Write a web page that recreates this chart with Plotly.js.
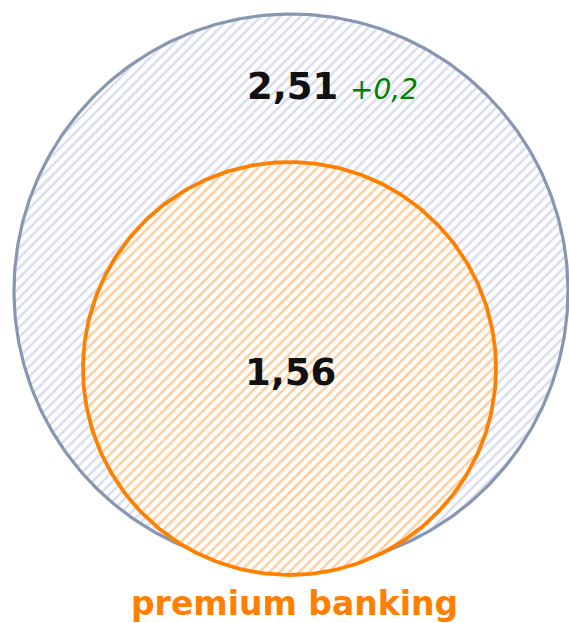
<!DOCTYPE html>
<html>
<head>
<meta charset="utf-8">
<script src="https://cdn.plot.ly/plotly-3.0.1.min.js"></script>
<style>
html,body{margin:0;padding:0;background:#fff;}
#chart{width:569px;height:623px;}
</style>
</head>
<body>
<div id="chart"></div>
<script>
// Data
var labels = ["total", "premium banking"];
var values = [2.51, 1.56];
var deltas = ["+0,2", ""];
var footerLabel = "premium banking";

// Layout geometry (pixel-space axes)
var W = 569, H = 623;
var circles = [
  {cx: 291, cy: 291, r: 277, line: "#8797b2", lw: 3.2, fg: "#d9dcee", label: [245, 86]},
  {cx: 289.5, cy: 368.5, r: 206.5, line: "#ff8000", lw: 3.8, fg: "#ffcc9c", label: [290, 372]}
];

function fmt(v){ return v.toFixed(2).replace(".", ","); }

var traces = circles.map(function(c){
  var xs = [], ys = [];
  for (var i = 0; i <= 360; i++) {
    var a = i * Math.PI / 180;
    xs.push(c.cx + c.r * Math.cos(a));
    ys.push(c.cy + c.r * Math.sin(a));
  }
  return {
    type: "scatter", mode: "lines", x: xs, y: ys,
    fill: "toself", fillcolor: "rgba(0,0,0,0)",
    fillpattern: {shape: "/", bgcolor: "#ffffff", fgcolor: c.fg, size: 7, solidity: 0.35},
    line: {color: c.line, width: c.lw},
    hoverinfo: "skip", showlegend: false
  };
});

var annotations = [];
circles.forEach(function(c, i){
  annotations.push({
    x: c.label[0], y: c.label[1], xref: "x", yref: "y", showarrow: false,
    text: "<b>" + fmt(values[i]) + "</b>" + (deltas[i] ? " <i><span style='color:#008000;font-size:28px;font-weight:normal'>" + deltas[i] + "</span></i>" : ""),
    font: {family: "DejaVu Sans", size: 37, color: "#111111"},
    xanchor: deltas[i] ? "left" : "center", yanchor: "middle"
  });
});

annotations.push({
  x: 294, y: 603, xref: "x", yref: "y", showarrow: false,
  text: "<b>" + footerLabel + "</b>",
  font: {family: "DejaVu Sans", size: 33, color: "#ff8000"},
  xanchor: "center", yanchor: "middle"
});

var layout = {
  width: W, height: H,
  margin: {l: 0, r: 0, t: 0, b: 0},
  paper_bgcolor: "#ffffff", plot_bgcolor: "#ffffff",
  xaxis: {range: [0, W], visible: false, fixedrange: true},
  yaxis: {range: [H, 0], visible: false, fixedrange: true},
  annotations: annotations,
  showlegend: false
};

Plotly.newPlot("chart", traces, layout, {displayModeBar: false, staticPlot: true});
</script>
</body>
</html>
